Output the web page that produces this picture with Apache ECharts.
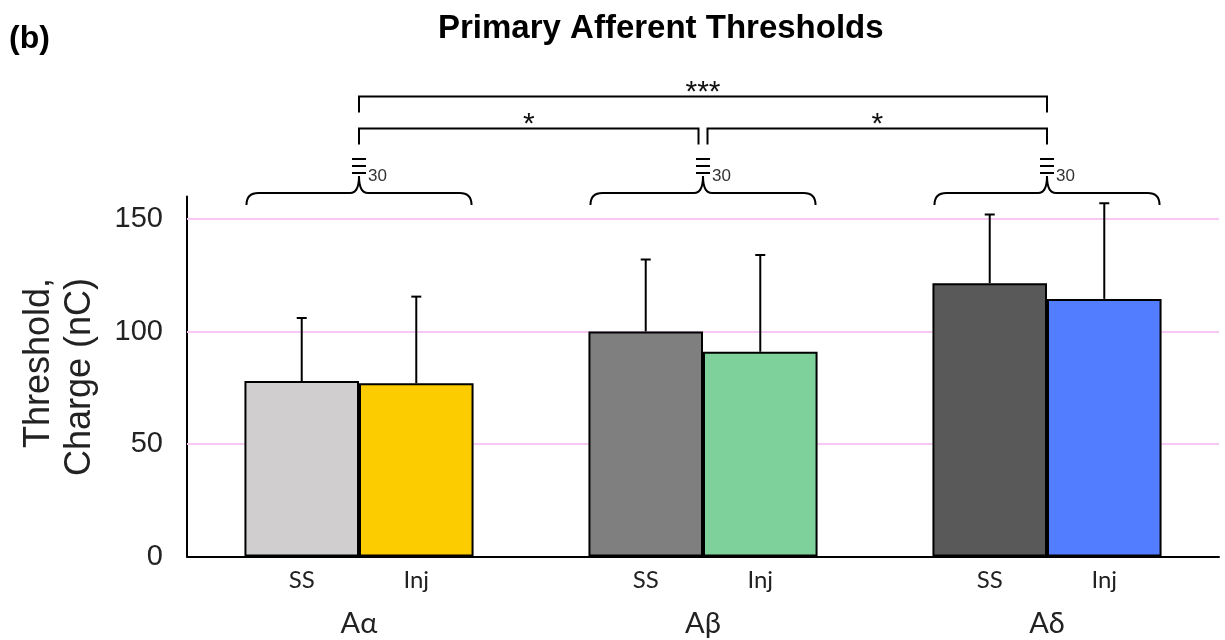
<!DOCTYPE html>
<html>
<head>
<meta charset="utf-8">
<script src="https://cdn.jsdelivr.net/npm/echarts@6/dist/echarts.min.js"></script>
<style>
  html, body { margin: 0; padding: 0; background: #fff; }
  #chart { width: 1225px; height: 640px; }
</style>
</head>
<body>
<div id="chart"></div>
<script>
// Fibre classes and groups
const categories = ['Aα', 'Aβ', 'Aδ'];
const groupNames = ['SS', 'Inj'];

// Mean threshold charge (nC) and standard deviation per class
const ssMean = [78, 100, 121.5];
const ssSD = [28, 32, 30.5];
const injMean = [77, 91, 114.5];
const injSD = [38.5, 43, 42.5];

// Sample size per class
const sampleN = [30, 30, 30];

// Pairwise comparisons between classes
const sigFrom = [0, 0, 1];
const sigTo = [2, 1, 2];
const sigTier = [1, 0, 0];
const sigMarks = ['***', '*', '*'];

// Value axis
const yMax = 160;
const yTicks = [0, 50, 100, 150];
const gridValues = [50, 100, 150];

// Fill colours per class
const ssColors = ['#d0cecf', '#7f7f7f', '#595959'];
const injColors = ['#fccb00', '#7fd19b', '#527dff'];

const CAT_GAP = 0.334;
const SANS = '"Liberation Sans", Arial, sans-serif';
const LABEL_FONT = 'Lato, "Noto Sans", sans-serif';

const chart = echarts.init(document.getElementById('chart'), null, { renderer: 'canvas' });

function halfGroupWidth(api) {
  return api.size([1, 0])[0] * (1 - CAT_GAP) / 2;
}

// Upward error bar on one bar of each pair (side -1 = SS, +1 = Inj)
function errorBarRenderer(side) {
  return function (params, api) {
    const idx = api.value(0);
    const mean = api.value(1);
    const sd = api.value(2);
    const barW = halfGroupWidth(api);
    const base = api.coord([idx, mean]);
    const tip = api.coord([idx, mean + sd]);
    const x = base[0] + side * barW / 2;
    const cap = 5;
    const style = { stroke: '#000', lineWidth: 2 };
    return {
      type: 'group',
      children: [
        { type: 'line', shape: { x1: x, y1: base[1], x2: x, y2: tip[1] }, style: style },
        { type: 'line', shape: { x1: x - cap, y1: tip[1], x2: x + cap, y2: tip[1] }, style: style }
      ]
    };
  };
}

// Curly brace over each class with its sample size
function braceRenderer(params, api) {
  const idx = api.value(0);
  const n = api.value(1);
  const cx = api.coord([idx, 0])[0];
  const top = api.coord([idx, yMax])[1];
  const hw = halfGroupWidth(api) - 2;
  const yb = top - 3.5;
  const tip = top - 20.5;
  const r = 12;
  const d = 'M' + cx + ' ' + tip + ' Q' + cx + ' ' + yb + ' ' + (cx - 9) + ' ' + yb +
    ' L' + (cx - hw + r) + ' ' + yb + ' Q' + (cx - hw) + ' ' + yb + ' ' + (cx - hw) + ' ' + (yb + r) +
    ' M' + cx + ' ' + tip + ' Q' + cx + ' ' + yb + ' ' + (cx + 9) + ' ' + yb +
    ' L' + (cx + hw - r) + ' ' + yb + ' Q' + (cx + hw) + ' ' + yb + ' ' + (cx + hw) + ' ' + (yb + r);
  const stroke = { stroke: '#000', lineWidth: 2 };
  const children = [
    { type: 'path', shape: { pathData: d }, style: { fill: null, stroke: '#000', lineWidth: 2 } }
  ];
  [-37.5, -30.5, -23.5].forEach(function (dy) {
    children.push({ type: 'line', shape: { x1: cx - 7, y1: top + dy, x2: cx + 7, y2: top + dy }, style: stroke });
  });
  children.push({
    type: 'text',
    x: cx + 9, y: top - 20,
    style: { text: String(n), fontSize: 17, fontFamily: SANS, fill: '#333', align: 'left', verticalAlign: 'middle' }
  });
  return { type: 'group', children: children };
}

// Significance brackets joining class pairs
function bracketRenderer(params, api) {
  const i = params.dataIndex;
  const from = api.value(0);
  const to = api.value(1);
  const tier = api.value(2);
  const top = api.coord([0, yMax])[1];
  // ends that share a class with another bracket on the same tier are nudged apart
  function endX(cat, dir) {
    let shared = false;
    for (let k = 0; k < sigFrom.length; k++) {
      if (k !== i && sigTier[k] === tier && (sigFrom[k] === cat || sigTo[k] === cat)) shared = true;
    }
    return api.coord([cat, 0])[0] + (shared ? dir * 4.5 : 0);
  }
  const x1 = endX(from, 1);
  const x2 = endX(to, -1);
  const yLine = top - 68 - tier * 32;
  const yDrop = yLine + 16;
  return {
    type: 'group',
    children: [
      {
        type: 'polyline',
        shape: { points: [[x1, yDrop], [x1, yLine], [x2, yLine], [x2, yDrop]] },
        style: { fill: null, stroke: '#000', lineWidth: 2 }
      },
      {
        type: 'text',
        x: (x1 + x2) / 2, y: yLine - 4,
        style: { text: sigMarks[i], fontSize: 30, fontFamily: SANS, fill: '#111', align: 'center', verticalAlign: 'middle' }
      }
    ]
  };
}

const barLabel = {
  show: true,
  position: 'bottom',
  distance: 12,
  formatter: '{a}',
  fontSize: 24,
  fontFamily: LABEL_FONT,
  color: '#222'
};

const option = {
  animation: false,
  backgroundColor: '#ffffff',
  title: [
    {
      text: '(b)', left: 9, top: 23, padding: 0,
      textStyle: { fontSize: 32, fontWeight: 'bold', fontFamily: SANS, color: '#000' }
    },
    {
      text: 'Primary Afferent Thresholds', left: 438, top: 12, padding: 0,
      textStyle: { fontSize: 33, fontWeight: 'bold', fontFamily: SANS, color: '#000' }
    }
  ],
  graphic: [
    {
      type: 'text',
      x: 60, y: 278,
      rotation: Math.PI / 2,
      style: {
        text: 'Threshold,\nCharge (nC)',
        fontSize: 36, fontFamily: SANS, fill: '#222',
        align: 'right', verticalAlign: 'middle', lineHeight: 41
      }
    }
  ],
  grid: { left: 187, right: 6, top: 196.5, bottom: 83.5 },
  xAxis: {
    type: 'category',
    data: categories,
    axisLine: { lineStyle: { color: '#000', width: 2 } },
    axisTick: { show: false },
    axisLabel: { margin: 53, fontSize: 29, fontFamily: LABEL_FONT, color: '#222' },
    splitLine: { show: false }
  },
  yAxis: {
    type: 'value',
    min: 0, max: yMax, interval: 50,
    axisLine: { show: true, lineStyle: { color: '#000', width: 2 } },
    axisTick: { show: true, inside: true, length: 9, lineStyle: { color: '#000', width: 2 }, customValues: yTicks },
    axisLabel: { fontSize: 29, fontFamily: SANS, color: '#222', margin: 24, customValues: yTicks },
    splitLine: { show: false }
  },
  series: [
    {
      name: groupNames[0],
      type: 'bar',
      z: 2,
      barGap: '0%',
      barCategoryGap: (CAT_GAP * 100) + '%',
      itemStyle: { borderColor: '#000', borderWidth: 2 },
      label: barLabel,
      data: ssMean.map(function (v, i) { return { value: v, itemStyle: { color: ssColors[i] } }; }),
      markLine: {
        silent: true,
        z: 1,
        symbol: 'none',
        label: { show: false },
        lineStyle: { color: '#f7c8f4', width: 2, type: 'solid' },
        data: gridValues.map(function (v) { return { yAxis: v }; })
      }
    },
    {
      name: groupNames[1],
      type: 'bar',
      z: 2,
      barGap: '0%',
      barCategoryGap: (CAT_GAP * 100) + '%',
      itemStyle: { borderColor: '#000', borderWidth: 2 },
      label: barLabel,
      data: injMean.map(function (v, i) { return { value: v, itemStyle: { color: injColors[i] } }; })
    },
    {
      type: 'custom',
      z: 3,
      silent: true,
      renderItem: errorBarRenderer(-1),
      data: ssMean.map(function (v, i) { return [i, v, ssSD[i]]; })
    },
    {
      type: 'custom',
      z: 3,
      silent: true,
      renderItem: errorBarRenderer(1),
      data: injMean.map(function (v, i) { return [i, v, injSD[i]]; })
    },
    {
      type: 'custom',
      z: 3,
      silent: true,
      clip: false,
      renderItem: braceRenderer,
      data: sampleN.map(function (n, i) { return [i, n]; })
    },
    {
      type: 'custom',
      z: 3,
      silent: true,
      clip: false,
      renderItem: bracketRenderer,
      data: sigFrom.map(function (f, i) { return [f, sigTo[i], sigTier[i]]; })
    }
  ]
};

chart.setOption(option);
</script>
</body>
</html>
